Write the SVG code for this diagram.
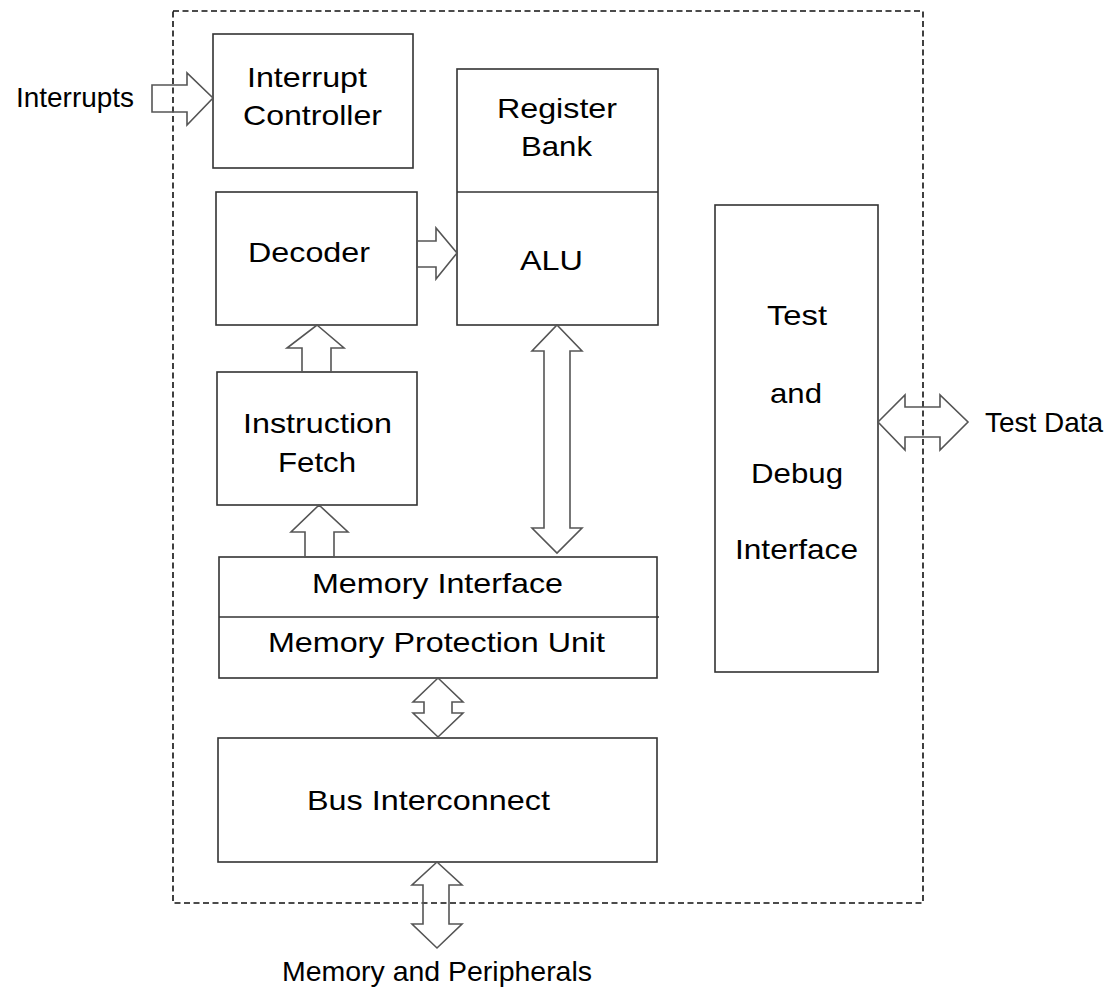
<svg xmlns="http://www.w3.org/2000/svg" width="1118" height="989" viewBox="0 0 1118 989">
<style>
.box{fill:#fff;stroke:#333;stroke-width:1.6}
.ln{stroke:#333;stroke-width:1.6;fill:none}
.arr{fill:none;stroke:#555;stroke-width:1.6;stroke-linejoin:miter}
.t{font-family:"Liberation Sans",Arial,sans-serif;font-size:28px;fill:#000}
.border{fill:none;stroke:#111;stroke-width:1.6;stroke-dasharray:6 3.5}
</style>
<rect width="1118" height="989" fill="#fff"/>
<rect id="chip-boundary" class="border" x="173" y="11" width="750" height="892"/>
<g id="interrupt-controller">
<rect class="box" x="213" y="34" width="200" height="134"/>
<text class="t" x="247" y="87" textLength="120" lengthAdjust="spacingAndGlyphs">Interrupt</text>
<text class="t" x="243" y="125" textLength="139" lengthAdjust="spacingAndGlyphs">Controller</text>
</g>
<g id="register-bank-alu">
<rect class="box" x="457" y="69" width="201" height="256"/>
<line class="ln" x1="457" y1="192" x2="658" y2="192"/>
<text class="t" x="497" y="118" textLength="120" lengthAdjust="spacingAndGlyphs">Register</text>
<text class="t" x="521" y="156" textLength="71" lengthAdjust="spacingAndGlyphs">Bank</text>
<text class="t" x="520" y="270" textLength="63" lengthAdjust="spacingAndGlyphs">ALU</text>
</g>
<g id="decoder">
<rect class="box" x="216" y="192" width="201" height="133"/>
<text class="t" x="248" y="262" textLength="122" lengthAdjust="spacingAndGlyphs">Decoder</text>
</g>
<g id="instruction-fetch">
<rect class="box" x="217" y="372" width="200" height="133"/>
<text class="t" x="243" y="433" textLength="149" lengthAdjust="spacingAndGlyphs">Instruction</text>
<text class="t" x="278" y="472" textLength="78" lengthAdjust="spacingAndGlyphs">Fetch</text>
</g>
<g id="memory-interface">
<rect class="box" x="219" y="557" width="438" height="121"/>
<line class="ln" x1="219" y1="617" x2="659" y2="617"/>
<text class="t" x="312" y="593" textLength="251" lengthAdjust="spacingAndGlyphs">Memory Interface</text>
<text class="t" x="268" y="652" textLength="337" lengthAdjust="spacingAndGlyphs">Memory Protection Unit</text>
</g>
<g id="bus-interconnect">
<rect class="box" x="218" y="738" width="439" height="124"/>
<text class="t" x="307" y="810" textLength="243" lengthAdjust="spacingAndGlyphs">Bus Interconnect</text>
</g>
<g id="test-debug">
<rect class="box" x="715" y="205" width="163" height="467"/>
<text class="t" x="767" y="325" textLength="60" lengthAdjust="spacingAndGlyphs">Test</text>
<text class="t" x="770" y="403" textLength="52" lengthAdjust="spacingAndGlyphs">and</text>
<text class="t" x="751" y="483" textLength="92" lengthAdjust="spacingAndGlyphs">Debug</text>
<text class="t" x="735" y="559" textLength="123" lengthAdjust="spacingAndGlyphs">Interface</text>
</g>
<g id="labels">
<text class="t" x="16" y="107" textLength="118" lengthAdjust="spacingAndGlyphs">Interrupts</text>
<text class="t" x="985" y="432" textLength="118" lengthAdjust="spacingAndGlyphs">Test Data</text>
<text class="t" x="282" y="981" textLength="310" lengthAdjust="spacingAndGlyphs">Memory and Peripherals</text>
</g>
<g id="connectors">
<polygon class="arr" points="152,85 187,85 187,73 213,98 187,125 187,112 152,112"/>
<polygon class="arr" points="417,241 436,241 436,228 457,253 436,279 436,267 417,267"/>
<polygon class="arr" points="317,325 344,348 331,348 331,372 302,372 302,348 287,348"/>
<polygon class="arr" points="319,505 348,532 334,532 334,557 305,557 305,532 291,532"/>
<polygon class="arr" points="557,325 582,351 570,351 570,528 582,528 557,553 532,528 544,528 544,351 532,351"/>
<polygon class="arr" points="438,678 463,702 452,702 452,713 463,713 438,737 413,713 424,713 424,702 413,702"/>
<polygon class="arr" points="437,862 462,885 449,885 449,924 462,924 437,948 412,924 423,924 423,885 412,885"/>
<polygon class="arr" points="878,422 905,395 905,407 940,407 940,395 968,422 940,450 940,437 905,437 905,450"/>
</g>
</svg>
